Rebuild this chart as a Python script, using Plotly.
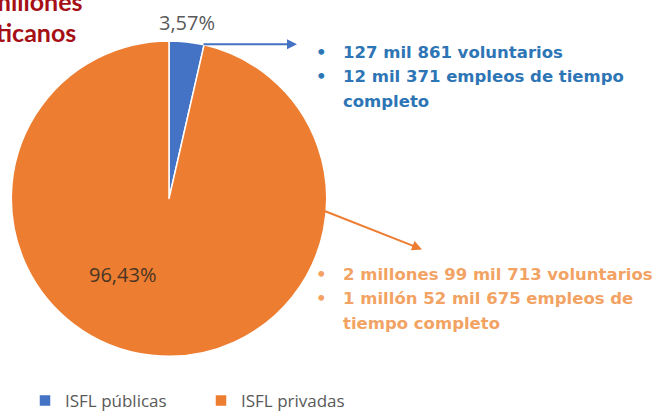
import plotly.graph_objects as go

labels = ["ISFL públicas", "ISFL privadas"]
values = [3.57, 96.43]
pct_text = ["3,57%", "96,43%"]
colors = ["#4472C4", "#ED7D31"]

blue_lines = ["127 mil 861 voluntarios", "12 mil 371 empleos de tiempo", "completo"]
orange_lines = ["2 millones 99 mil 713 voluntarios", "1 millón 52 mil 675 empleos de", "tiempo completo"]
title_lines = ["millones", "ticanos"]

W, H = 656, 419

def px(x):
    return x / W

def py(y):
    return 1 - y / H

fig = go.Figure()
fig.add_trace(go.Pie(
    labels=labels, values=values, sort=False, direction="clockwise", rotation=0,
    marker=dict(colors=colors, line=dict(color="white", width=1.5)),
    textinfo="none", hoverinfo="skip",
    domain=dict(x=[px(9), px(329)], y=[py(361.5), py(41.5)]),
))

ann = []
txt_font = dict(family="DejaVu Sans", size=16.5, weight="bold")
# percent labels
ann.append(dict(x=px(187), y=py(23), text=pct_text[0], showarrow=False,
                xanchor="center", yanchor="middle",
                font=dict(family="Open Sans", size=20, color="#595959")))
ann.append(dict(x=px(122), y=py(278), text=pct_text[1], showarrow=False,
                xanchor="center", yanchor="middle",
                font=dict(family="Open Sans", size=20, color="#4a3524")))
# arrows
ann.append(dict(x=px(297), y=py(45), ax=-95, ay=0, xref="paper", yref="paper",
                showarrow=True, arrowhead=2, arrowsize=1, arrowwidth=2,
                arrowcolor="#4472C4", text=""))
ann.append(dict(x=px(422), y=py(253), ax=-104, ay=-41, xref="paper", yref="paper",
                showarrow=True, arrowhead=2, arrowsize=1, arrowwidth=2,
                arrowcolor="#ED7D31", text=""))
# blue text
for i, t in enumerate(blue_lines):
    y = 53 + 25 * i
    if i < 2:
        ann.append(dict(x=px(321), y=py(y), text="•", showarrow=False, xanchor="center", yanchor="middle",
                        font=dict(txt_font, color="#2E75B6")))
    ann.append(dict(x=px(341), y=py(y), text=t, showarrow=False, xanchor="left", yanchor="middle",
                    font=dict(txt_font, color="#2E75B6")))
# orange text
for i, t in enumerate(orange_lines):
    y = 278 + 25 * i
    if i < 2:
        ann.append(dict(x=px(321), y=py(y), text="•", showarrow=False, xanchor="center", yanchor="middle",
                        font=dict(txt_font, color="#F2A363")))
    ann.append(dict(x=px(341), y=py(y), text=t, showarrow=False, xanchor="left", yanchor="middle",
                    font=dict(txt_font, color="#F2A363")))
# cropped title
ann.append(dict(x=px(-12), y=py(1), text="<b>" + title_lines[0] + "</b>", showarrow=False,
                xanchor="left", yanchor="middle",
                font=dict(family="Lato", size=25, color="#A50F15")))
ann.append(dict(x=px(-6), y=py(32), text="<b>" + title_lines[1] + "</b>", showarrow=False,
                xanchor="left", yanchor="middle",
                font=dict(family="Lato", size=25, color="#A50F15")))

fig.update_layout(
    width=W, height=H, margin=dict(l=0, r=0, t=0, b=0),
    paper_bgcolor="white", plot_bgcolor="white",
    annotations=ann,
    showlegend=True,
    legend=dict(orientation="h", x=px(25), y=py(407), xanchor="left", yanchor="middle",
                font=dict(family="Open Sans", size=17, color="#595959"),
                itemwidth=30, entrywidth=131, entrywidthmode="pixels", traceorder="normal"),
)

fig.write_html("out.html", config={"displayModeBar": False},
               post_script="document.body.style.margin='0';")
